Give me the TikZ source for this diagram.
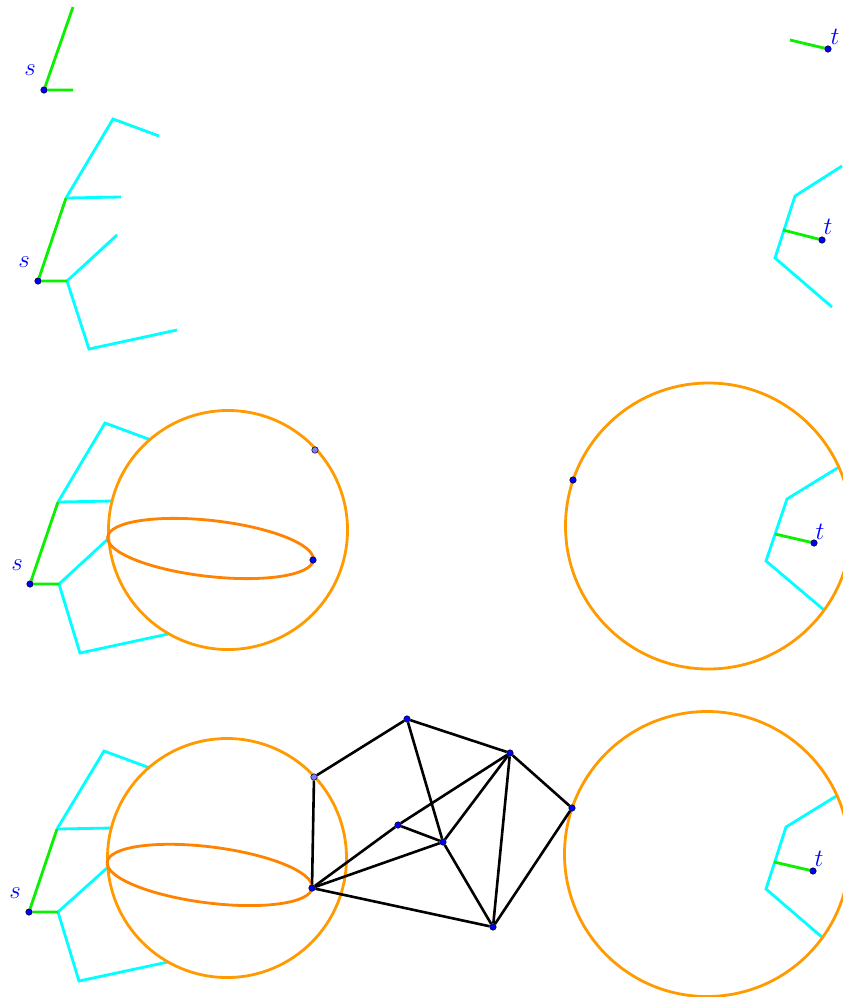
\documentclass[tikz,border=0pt]{standalone}
\usepackage{tikz}
\usetikzlibrary{
    backgrounds,
    calc
}
\definecolor{pathgreen}{RGB}{10,240,0}
\definecolor{treecyan}{RGB}{0,255,255}
\definecolor{ballorange}{RGB}{255,155,0}
\definecolor{looporange}{RGB}{255,130,0}
\definecolor{vtxblue}{RGB}{0,0,255}
\definecolor{vtxlight}{RGB}{125,125,255}
\tikzset{
    vtx/.style={
        circle,
        draw=black,
        fill=vtxblue,
        inner sep=0pt,
        minimum size=6.5pt,
        line width=0.5pt
    },
    lightvtx/.style={
        vtx,
        fill=vtxlight
    },
    lbl/.style={
        text=vtxblue,
        inner sep=0pt,
        font=\Huge
    },
    pathedge/.style={
        draw=pathgreen,
        line width=2.8pt
    },
    treeedge/.style={
        draw=treecyan,
        line width=2.8pt
    },
    ball/.style={
        draw=ballorange,
        line width=2.8pt
    },
    loopcurve/.style={
        draw=looporange,
        line width=2.8pt
    },
    graphedge/.style={
        draw=black,
        line width=2.6pt
    }
}

\begin{document}
\begin{tikzpicture}[x=1pt, y=-1pt]
    \useasboundingbox (0,0) rectangle (843,997);

    % Row 1: first edges at s and t
    \node[vtx] (s1) at (44,90) {};
    \node[lbl] (s1l) at (30,70) {$s$};
    \coordinate (s1u) at (73,7);
    \coordinate (s1r) at (73,90);
    \node[vtx] (t1) at (828,49) {};
    \node[lbl] (t1l) at (835,37) {$t$};
    \coordinate (t1w) at (790,40);

    % Row 2: trees grown from s and t
    \node[vtx] (s2) at (38,281) {};
    \node[lbl] (s2l) at (24,262) {$s$};
    \coordinate (a2) at (66,198);
    \coordinate (b2) at (67,281);
    \node[vtx] (t2) at (822,240) {};
    \node[lbl] (t2l) at (828,227) {$t$};
    \coordinate (t2w) at (783,230);

    % Row 3: balls around the trees
    \node[vtx] (s3) at (30,584) {};
    \node[lbl] (s3l) at (17,565) {$s$};
    \coordinate (a3) at (58,502);
    \coordinate (b3) at (59,584);
    \coordinate (o3) at (228,530);
    \coordinate (e3) at (210.5,548.5);
    \node[vtx] (g3) at (313,560) {};
    \node[lightvtx] (p3) at (315,450) {};
    \coordinate (r3) at (708.5,526);
    \node[vtx] (q3) at (573,480) {};
    \node[vtx] (t3) at (814,543) {};
    \node[lbl] (t3l) at (820,532) {$t$};
    \coordinate (t3w) at (775,534);

    % Row 4: the graph between the two balls
    \node[vtx] (s4) at (29,912) {};
    \node[lbl] (s4l) at (15,893) {$s$};
    \coordinate (a4) at (57,829);
    \coordinate (b4) at (58,912);
    \coordinate (o4) at (227,858);
    \coordinate (e4) at (209.7,875);
    \coordinate (r4) at (707,854);
    \node[lightvtx] (A) at (314,777) {};
    \node[vtx] (B) at (407,719) {};
    \node[vtx] (C) at (510,753) {};
    \node[vtx] (D) at (572,808) {};
    \node[vtx] (E) at (398,825) {};
    \node[vtx] (F) at (443,842) {};
    \node[vtx] (G) at (312,888) {};
    \node[vtx] (H) at (493,927) {};
    \node[vtx] (t4) at (813,871) {};
    \node[lbl] (t4l) at (819,859) {$t$};
    \coordinate (t4w) at (774,862);

    \begin{pgfonlayer}{background}
        % trees
        \draw[treeedge] (a2) -- (113,119) -- (159,136);
        \draw[treeedge] (a2) -- (121,197);
        \draw[treeedge] (b2) -- (117,235);
        \draw[treeedge] (b2) -- (89,349) -- (177,330);
        \draw[treeedge] (842,166) -- (795,196) -- (775,258) -- (832,307);
        \draw[treeedge] (a3) -- (105,423) -- (151,440);
        \draw[treeedge] (a3) -- (113,501);
        \draw[treeedge] (b3) -- (108,539);
        \draw[treeedge] (b3) -- (80,653) -- (168,634);
        \draw[treeedge] (839,467) -- (787,499) -- (766,561) -- (824,610);
        \draw[treeedge] (a4) -- (104,751) -- (150,768);
        \draw[treeedge] (a4) -- (112,828);
        \draw[treeedge] (b4) -- (107,868);
        \draw[treeedge] (b4) -- (79,981) -- (168,962);
        \draw[treeedge] (838,795) -- (786,827) -- (766,889) -- (823,938);

        % shortest path pieces
        \draw[pathedge] (s1u) -- (s1) -- (s1r);
        \draw[pathedge] (t1w) -- (t1);
        \draw[pathedge] (a2) -- (s2) -- (b2);
        \draw[pathedge] (t2w) -- (t2);
        \draw[pathedge] (a3) -- (s3) -- (b3);
        \draw[pathedge] (t3w) -- (t3);
        \draw[pathedge] (a4) -- (s4) -- (b4);
        \draw[pathedge] (t4w) -- (t4);

        % balls
        \draw[ball] (o3) circle (119.5);
        \draw[ball] (r3) circle (143);
        \draw[ball] (o4) circle (119.5);
        \draw[ball] (r4) circle (142.5);
        \draw[loopcurve, rotate around={-6.4:(e3)}] (e3) ellipse (103.5 and 28);
        \draw[loopcurve, rotate around={-7.2:(e4)}] (e4) ellipse (103.3 and 28);

        % graph
        \foreach \a/\b in {A/B, A/G, B/C, B/F, C/D, C/E, C/F, C/H,
                           D/H, E/F, E/G, F/G, F/H, G/H}
            \draw[graphedge] (\a) -- (\b);
    \end{pgfonlayer}
\end{tikzpicture}
\end{document}
